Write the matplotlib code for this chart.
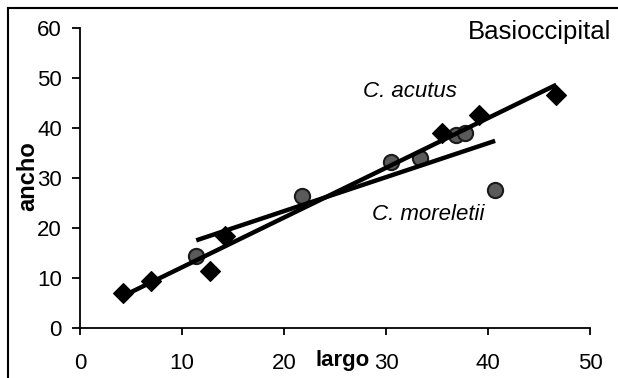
import matplotlib.pyplot as plt
import numpy as np
from matplotlib.lines import Line2D

plt.rcParams['font.family'] = ['Liberation Sans', 'DejaVu Sans']

# C. acutus (diamonds)
acutus_largo = np.array([4.2, 7.0, 12.7, 14.2, 35.5, 39.1, 46.7])
acutus_ancho = np.array([6.9, 9.3, 11.3, 18.3, 38.9, 42.6, 46.6])

# C. moreletii (circles)
moreletii_largo = np.array([11.4, 21.8, 30.5, 33.3, 36.9, 37.7, 40.7])
moreletii_ancho = np.array([14.3, 26.3, 33.1, 33.9, 38.6, 38.9, 27.6])

x_ticks = [0, 10, 20, 30, 40, 50]
y_ticks = [0, 10, 20, 30, 40, 50, 60]


def fit_line(x, y):
    m, b = np.polyfit(x, y, 1)
    xx = np.array([x.min(), x.max()])
    return xx, m * xx + b


fig = plt.figure(figsize=(6.18, 3.78), dpi=100)
ax = fig.add_axes([0.1294, 0.1323, 0.8253, 0.7937])

xa, ya = fit_line(acutus_largo, acutus_ancho)
xm, ym = fit_line(moreletii_largo, moreletii_ancho)

ax.scatter(moreletii_largo, moreletii_ancho, s=120, marker='o',
           facecolor='#5a5a5a', edgecolor='#1a1a1a', linewidth=1.5, zorder=2)
ax.scatter(acutus_largo, acutus_ancho, s=100, marker='D',
           facecolor='black', edgecolor='black', zorder=2)
ax.plot(xa, ya, color='black', lw=3.2, solid_capstyle='butt', zorder=3)
ax.plot(xm, ym, color='black', lw=3.2, solid_capstyle='butt', zorder=3)

ax.set_xlim(0, 50)
ax.set_ylim(0, 60)
ax.set_xticks(x_ticks)
ax.set_yticks(y_ticks)
ax.spines['top'].set_visible(False)
ax.spines['right'].set_visible(False)
ax.spines['left'].set_linewidth(1.3)
ax.spines['bottom'].set_linewidth(1.3)
ax.tick_params(axis='x', length=5, width=1.3, pad=13, labelsize=16)
ax.tick_params(axis='y', length=6, width=1.3, pad=7, labelsize=16)

ax.text(25.7, -6.5, 'largo', fontsize=16, fontweight='bold',
        ha='center', va='center', zorder=5)
fig.text(0.045, 0.535, 'ancho', fontsize=17, fontweight='bold',
         rotation=90, ha='center', va='center')

ax.text(52.1, 59.2, 'Basioccipital', fontsize=18.5, ha='right', va='center')
ax.text(32.3, 47.2, 'C. acutus', fontsize=16, style='italic',
        ha='center', va='center')
ax.text(34.1, 22.6, 'C. moreletii', fontsize=16, style='italic',
        ha='center', va='center')

# outer frame (left and top edges)
fig.add_artist(Line2D([8 / 618, 8 / 618], [0, 1 - 8 / 378],
                      color='black', lw=1.5, transform=fig.transFigure))
fig.add_artist(Line2D([8 / 618, 1], [1 - 8 / 378, 1 - 8 / 378],
                      color='black', lw=1.5, transform=fig.transFigure))

fig.savefig('out.png', dpi=100)
